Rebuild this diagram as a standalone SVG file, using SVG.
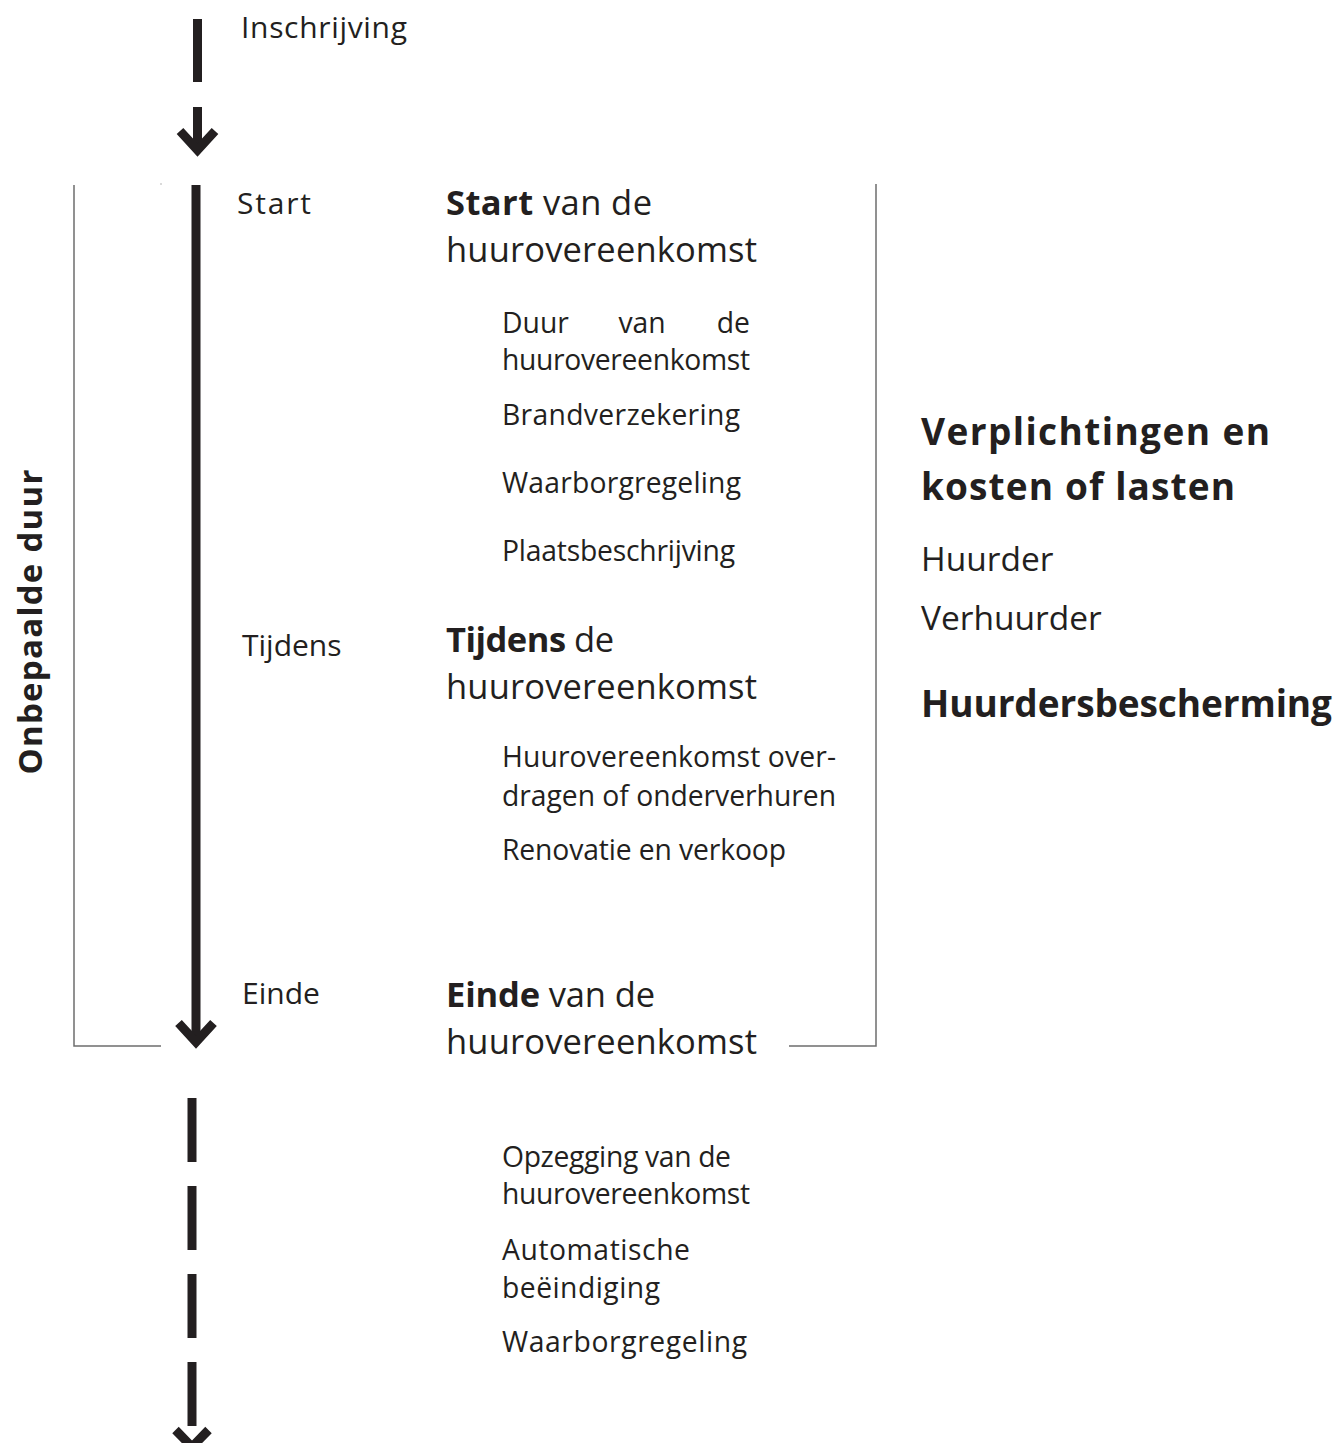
<svg xmlns="http://www.w3.org/2000/svg" width="1344" height="1443" viewBox="0 0 1344 1443">
<style>
text{font-family:"Open Sans","Noto Sans","Liberation Sans",sans-serif;fill:#231f20}
.lbl{font-size:30px}
.med{font-size:34.5px}
.sm{font-size:28.3px}
.big{font-size:37px;font-weight:bold}
.rt{font-size:33.5px}
.b{font-weight:bold}
.ln{stroke:#231f20;stroke-width:9;fill:none;stroke-linecap:butt}
.br{stroke:#6d6d6d;stroke-width:1.5;fill:none}
</style>
<rect width="1344" height="1443" fill="#ffffff"/>
<g id="connectors">
<line class="ln" x1="197.5" y1="19" x2="197.5" y2="82"/>
<line class="ln" x1="197.5" y1="107" x2="197.5" y2="150"/>
<polyline class="ln" points="180,131 197.5,150 215,131"/>
<line class="ln" x1="196" y1="185" x2="196" y2="1040"/>
<polyline class="ln" points="178.5,1023 196,1042 213.5,1023"/>
<line class="ln" x1="192" y1="1098" x2="192" y2="1162" stroke-width="8"/>
<line class="ln" x1="192" y1="1186" x2="192" y2="1250" stroke-width="8"/>
<line class="ln" x1="192" y1="1274" x2="192" y2="1338" stroke-width="8"/>
<line class="ln" x1="192" y1="1362" x2="192" y2="1426" stroke-width="8"/>
<polyline class="ln" points="175.5,1430 192,1447 208.5,1430"/>
</g>
<g id="bracket-left">
<polyline class="br" points="74,185 74,1046 161,1046"/>
<rect x="160.5" y="183.5" width="1" height="1" fill="#6d6d6d"/>
</g>
<g id="bracket-right">
<polyline class="br" points="876,184 876,1046 789,1046"/>
</g>
<g id="label-inschrijving"><text class="lbl" x="241" y="38" textLength="166">Inschrijving</text></g>
<g id="label-start"><text class="lbl" x="237" y="214" textLength="74">Start</text></g>
<g id="label-tijdens"><text class="lbl" x="242" y="656">Tijdens</text></g>
<g id="label-einde"><text class="lbl" x="242" y="1004">Einde</text></g>
<g id="label-duur"><text class="b" font-size="33" transform="translate(42 622) rotate(-90)" text-anchor="middle" textLength="305">Onbepaalde duur</text></g>
<g id="start-block">
<text class="med" x="446" y="215" textLength="206"><tspan font-weight="bold">Start</tspan> van de</text>
<text class="med" x="446" y="262" textLength="311">huurovereenkomst</text>
<text class="sm" x="502" y="333">Duur</text>
<text class="sm" x="642" y="333" text-anchor="middle">van</text>
<text class="sm" x="750" y="333" text-anchor="end">de</text>
<text class="sm" x="502" y="370" textLength="248">huurovereenkomst</text>
<text class="sm" x="502" y="425" textLength="238">Brandverzekering</text>
<text class="sm" x="502" y="493" textLength="239">Waarborgregeling</text>
<text class="sm" x="502" y="561" textLength="233">Plaatsbeschrijving</text>
</g>
<g id="tijdens-block">
<text class="med" x="446" y="652" textLength="168"><tspan font-weight="bold">Tijdens</tspan> de</text>
<text class="med" x="446" y="699" textLength="311">huurovereenkomst</text>
<text class="sm" x="502" y="767" textLength="334">Huurovereenkomst over-</text>
<text class="sm" x="502" y="806" textLength="334">dragen of onderverhuren</text>
<text class="sm" x="502" y="860" textLength="284">Renovatie en verkoop</text>
</g>
<g id="einde-block">
<text class="med" x="446" y="1007" textLength="209"><tspan font-weight="bold">Einde</tspan> van de</text>
<text class="med" x="446" y="1054" textLength="311">huurovereenkomst</text>
<text class="sm" x="502" y="1167" textLength="229">Opzegging van de</text>
<text class="sm" x="502" y="1204" textLength="248">huurovereenkomst</text>
<text class="sm" x="502" y="1260" textLength="188">Automatische</text>
<text class="sm" x="502" y="1298" textLength="158">beëindiging</text>
<text class="sm" x="502" y="1352" textLength="245">Waarborgregeling</text>
</g>
<g id="right-block">
<text class="big" x="921" y="445" textLength="349">Verplichtingen en</text>
<text class="big" x="921" y="500" textLength="314">kosten of lasten</text>
<text class="rt" x="921" y="571">Huurder</text>
<text class="rt" x="921" y="630">Verhuurder</text>
<text class="big" x="921" y="717" textLength="411">Huurdersbescherming</text>
</g>
</svg>
